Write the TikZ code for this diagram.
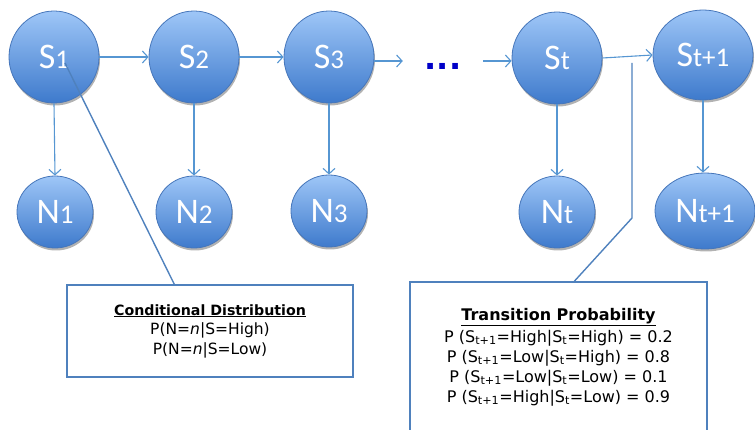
\documentclass[tikz,border=0pt]{standalone}
\usepackage{fontspec}
\setmainfont{DejaVu Sans}
\newfontfamily\ballfont{Carlito}
\usetikzlibrary{arrows.meta,shadows,shapes.geometric,calc}

\definecolor{linkblue}{RGB}{86,150,210}
\definecolor{calloutblue}{RGB}{79,129,189}
\definecolor{balltop}{RGB}{158,198,247}
\definecolor{ballbot}{RGB}{62,122,204}
\definecolor{ballrim}{RGB}{70,118,186}
\definecolor{dotblue}{RGB}{0,0,200}

\newcommand{\lbl}[2]{#1{\fontsize{27}{27}\selectfont #2}}
\newcommand{\condheading}{\bfseries\fontsize{14.2}{20}\selectfont}
\newcommand{\transheading}{\bfseries\fontsize{16}{21}\selectfont}

\tikzset{
  ball/.style={ellipse, inner sep=0pt, draw=ballrim, line width=0.8pt,
    top color=balltop, bottom color=ballbot, text=white,
    font=\ballfont\fontsize{36}{36}\selectfont,
    drop shadow={shadow xshift=1pt, shadow yshift=-2.5pt, opacity=0.3, fill=black}},
  statenode/.style={ball, minimum width=90pt, minimum height=92pt},
  obsnode/.style={ball, minimum width=76pt, minimum height=72pt},
  link/.style={draw=linkblue, line width=1.1pt,
    -{Straight Barb[length=5.5pt,width=12pt,line width=1.1pt]}},
  callout/.style={draw=calloutblue, line width=1.4pt},
  infobox/.style={rectangle, draw=calloutblue, line width=1.4pt, fill=white,
    align=center, inner sep=0pt}
}

\begin{document}
\begin{tikzpicture}[x=1pt,y=-1pt]
\useasboundingbox (0,0) rectangle (755,430);
\clip (0,0) rectangle (755,430);

% hidden state chain
\node[statenode] (S1) at (54,57) {\lbl{S}{1}};
\node[statenode] (S2) at (194,57) {\lbl{S}{2}};
\node[statenode] (S3) at (329,57) {\lbl{S}{3}};
\node[statenode] (St) at (557,58) {\lbl{S}{t}};
\node[statenode, minimum width=100pt, minimum height=90pt] (St1) at (703,55) {\lbl{S}{t+1}};

% observations
\node[obsnode] (N1) at (55,212) {\lbl{N}{1}};
\node[obsnode] (N2) at (194,212) {\lbl{N}{2}};
\node[obsnode] (N3) at (329,211) {\lbl{N}{3}};
\node[obsnode] (Nt) at (557,212) {\lbl{N}{t}};
\node[obsnode, minimum width=100pt, minimum height=76pt] (Nt1) at (705,211) {\lbl{N}{t+1}};

% ellipsis between the explicit states
\node[inner sep=0pt, minimum width=80pt, text height=0pt, text depth=0pt,
      text=dotblue, font=\bfseries\fontsize{32}{32}\selectfont] (dots) at (443,61)
      {\raisebox{-9pt}{...}};

% transitions
\draw[link] (S1.east) -- (S2.west);
\draw[link] (S2.east) -- (S3.west);
\draw[link] (S3.east |- dots.west) -- (dots.west);
\draw[link] (dots.east) -- (St.west |- dots.east);
\draw[link] (St.east) -- (St1.west);

% emissions
\draw[link] (S1.south) -- (N1.north);
\draw[link] (S2.south) -- (N2.north);
\draw[link] (S3.south) -- (N3.north);
\draw[link] (St.south) -- (Nt.north);
\draw[link] (St1.south) -- (St1.south |- Nt1.north);

% annotation boxes
\node[infobox, minimum width=286pt, minimum height=92pt,
      font=\fontsize{15.5}{19.5}\selectfont] (cond) at (210,331)
  {{\condheading\underline{Conditional Distribution}}\\
   P(N=\textit{n}|S=High)\\
   P(N=\textit{n}|S=Low)};

\node[infobox, minimum width=297pt, minimum height=150pt,
      font=\fontsize{16}{20}\selectfont] (trans) at (558.5,357)
  {{\transheading\underline{Transition Probability}}\\[2pt]
   P (S\textsubscript{t+1}=High|S\textsubscript{t}=High) = 0.2\\
   P (S\textsubscript{t+1}=Low|S\textsubscript{t}=High) = 0.8\\
   P (S\textsubscript{t+1}=Low|S\textsubscript{t}=Low) = 0.1\\
   P (S\textsubscript{t+1}=High|S\textsubscript{t}=Low) = 0.9};

% callout leaders
\coordinate (tipA) at (65,63);
\coordinate (tipB) at (632,63);
\coordinate (bendB) at (632,218);
\draw[callout] (tipA) -- ($(cond.north west)+(108,0)$);
\draw[callout] (tipB) -- (bendB) -- ($(trans.north west)+(165,0)$);
\end{tikzpicture}
\end{document}
